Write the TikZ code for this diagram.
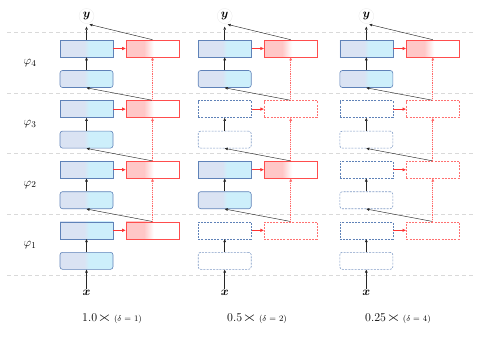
\documentclass[tikz,border=0pt]{standalone}
\usepackage{bm}
\usepackage{graphicx}
\usetikzlibrary{arrows.meta}
\definecolor{lav}{HTML}{DAE3F3}
\definecolor{cyn}{HTML}{CDEFFB}
\definecolor{pnk}{HTML}{FFC7C7}
\definecolor{bdr}{HTML}{5F82B8}
\definecolor{rbd}{HTML}{FF4D4D}
\pgfdeclarehorizontalshading{blueshade}{100bp}{color(0bp)=(lav); color(48bp)=(lav); color(52bp)=(cyn); color(100bp)=(cyn)}
\pgfdeclarehorizontalshading{redshade}{100bp}{color(0bp)=(pnk); color(42bp)=(pnk); color(51bp)=(white); color(100bp)=(white)}
\tikzset{
  box/.style={rectangle, minimum width=53bp, minimum height=17bp, inner sep=0pt, line width=0.6pt},
  ups/.style={box, draw=bdr, shading=blueshade},
  upd/.style={box, draw=bdr, dash pattern=on 2bp off 1.2bp, fill=white},
  lows/.style={ups, rounded corners=2.5bp},
  lowd/.style={upd, draw=bdr!80, rounded corners=2.5bp},
  reds/.style={box, draw=rbd, shading=redshade},
  redd/.style={box, draw=rbd!80, dash pattern=on 2bp off 1.2bp, fill=white},
  blk/.style={-{Triangle[length=3bp,width=2.6bp]}, line width=0.45pt, black!85},
  rar/.style={-{Triangle[length=3.5bp,width=3bp]}, line width=0.9pt, red!80},
  rdot/.style={-{Triangle[length=3bp,width=2.6bp]}, line width=0.7pt, draw=rbd!85, fill=rbd!85, dash pattern=on 0.8bp off 1bp},
  sep/.style={gray!30, line width=0.8pt, dash pattern=on 4bp off 3bp},
  lbl/.style={font=\fontsize{12.5}{14}\selectfont, inner sep=1pt},
  ynode/.style={circle, draw=gray!15, minimum size=15bp, inner sep=0pt, font=\fontsize{12.5}{14}\selectfont},
  captext/.style={anchor=base west, inner sep=0pt, font=\fontsize{12}{14}\selectfont}
}
\newcommand\bigx{\scalebox{1.6}[1.1]{$\times$}}
% #1 column, #2 band, #3 blue centre x, #4 red centre x, #5 s (solid) or d (dashed)
\newcommand\mkband[5]{%
  \pgfmathsetmacro\yl{32.5+60.6*(4-#2)}%
  \node[up#5] (u#1#2) at (#3,\yl+16) {};
  \node[low#5] (l#1#2) at (#3,\yl+46.5) {};
  \node[red#5] (r#1#2) at (#4,\yl+16) {};
}
\newcommand\mkarrows[1]{%
  \draw[blk] (x#1.north) -- (l#11.south);
  \foreach \k in {1,2,3,4}{
    \draw[blk] (l#1\k.north) -- (u#1\k.south);
    \draw[rar] (u#1\k.east) -- (r#1\k.west);
  }
  \foreach \k/\n in {1/2,2/3,3/4}{
    \draw[blk] (r#1\k.north) -- (l#1\n.south);
    \draw[rdot] (r#1\k.north) -- (r#1\n.south);
  }
  \draw[blk, shorten >=3bp] (u#14.north) -- (y#1.south);
  \draw[blk, shorten >=3bp] (r#14.north) -- (y#1.south);
}
\begin{document}
\begin{tikzpicture}[x=1bp, y=-1bp]
\useasboundingbox (0,0) rectangle (490,340);
% separators
\foreach \yy in {32.5,93.1,153.7,214.3,275}{
  \draw[sep] (7,\yy) -- (475,\yy);
}
% phi labels
\node[lbl] (p4) at (30,63.5) {$\varphi_4$};
\node[lbl] (p3) at (30,124.1) {$\varphi_3$};
\node[lbl] (p2) at (30,184.7) {$\varphi_2$};
\node[lbl] (p1) at (30,245.3) {$\varphi_1$};
% column 1
\mkband{1}{1}{86.5}{152.5}{s}
\mkband{1}{2}{86.5}{152.5}{s}
\mkband{1}{3}{86.5}{152.5}{s}
\mkband{1}{4}{86.5}{152.5}{s}
% column 2
\mkband{2}{1}{224.7}{290.7}{d}
\mkband{2}{2}{224.7}{290.7}{s}
\mkband{2}{3}{224.7}{290.7}{d}
\mkband{2}{4}{224.7}{290.7}{s}
% column 3
\mkband{3}{1}{366.3}{432.8}{d}
\mkband{3}{2}{366.3}{432.8}{d}
\mkband{3}{3}{366.3}{432.8}{d}
\mkband{3}{4}{366.3}{432.8}{s}
% inputs and outputs
\node[lbl] (x1) at (86.5,293) {$\bm{x}$};
\node[lbl] (x2) at (224.7,293) {$\bm{x}$};
\node[lbl] (x3) at (366.3,293) {$\bm{x}$};
\node[ynode] (y1) at (86.5,16) {$\bm{y}$};
\node[ynode] (y2) at (224.7,16) {$\bm{y}$};
\node[ynode] (y3) at (366.3,16) {$\bm{y}$};
\mkarrows{1}
\mkarrows{2}
\mkarrows{3}
% captions
\node[captext] (c1) at (82,321.3) {1.0\bigx\,{\fontsize{8.5}{10}\selectfont($\delta$ = 1)}};
\node[captext] (c2) at (227,321.3) {0.5\bigx\,{\fontsize{8.5}{10}\selectfont($\delta$ = 2)}};
\node[captext] (c3) at (365,321.3) {0.25\bigx\,{\fontsize{8.5}{10}\selectfont($\delta$ = 4)}};
\end{tikzpicture}
\end{document}
